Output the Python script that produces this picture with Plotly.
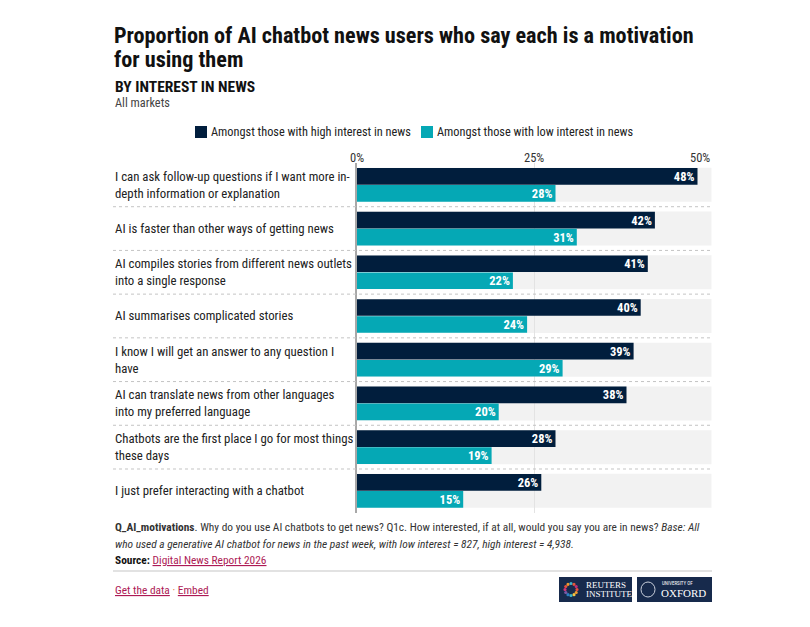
import plotly.graph_objects as go
import math

# ---------------- data ----------------
categories = [
    "I can ask follow-up questions if I want more in-<br>depth information or explanation",
    "AI is faster than other ways of getting news",
    "AI compiles stories from different news outlets<br>into a single response",
    "AI summarises complicated stories",
    "I know I will get an answer to any question I<br>have",
    "AI can translate news from other languages<br>into my preferred language",
    "Chatbots are the first place I go for most things<br>these days",
    "I just prefer interacting with a chatbot",
]
high_interest = [48, 42, 41, 40, 39, 38, 28, 26]
low_interest = [28, 31, 22, 24, 29, 20, 19, 15]
series_names = ["Amongst those with high interest in news", "Amongst those with low interest in news"]
tick_values = [0, 25, 50]
tick_labels = ["0%", "25%", "50%"]
x_max = 50

# ---------------- style ----------------
W, H = 810, 627
FONT = "Liberation Sans Narrow, Roboto Condensed, Arial Narrow, Roboto, sans-serif"
SERIF = "Liberation Serif, DejaVu Serif, serif"
NAVY = "#011e3d"
TEAL = "#05a8b5"
BG = "#f2f2f2"
LINK = "#ad1a55"


def px(x):
    return x / W


def py(y):
    return 1 - y / H


X0, X1 = 356.7, 711.7
Y0, Y1 = 163.0, 512.7

fig = go.Figure()
for vals, col, name in [(high_interest, NAVY, series_names[0]), (low_interest, TEAL, series_names[1])]:
    fig.add_trace(go.Bar(
        y=categories, x=vals, orientation="h", name=name,
        marker=dict(color=col, line=dict(width=0)),
        texttemplate="%{x}%", textposition="inside", insidetextanchor="end",
        constraintext="none",
        textfont=dict(family=FONT, size=12.5, color="white", weight="bold"),
        hoverinfo="skip",
    ))

n = len(categories)
group_half = (1 - 0.222) / 2
shapes = []
annotations = []

# grey row backgrounds
for i in range(n):
    shapes.append(dict(type="rect", xref="x", yref="y", x0=0, x1=x_max,
                       y0=i - group_half, y1=i + group_half,
                       fillcolor=BG, line=dict(width=0), layer="below"))
# dotted separators
for i in range(n - 1):
    shapes.append(dict(type="line", xref="paper", yref="y", x0=px(113), x1=px(X1),
                       y0=i + 0.5, y1=i + 0.5,
                       line=dict(color="#c4c4c4", width=1, dash="dot"), layer="above"))

# row labels
for i, c in enumerate(categories):
    annotations.append(dict(xref="paper", yref="y", x=px(113), y=i, text=c,
                            xanchor="left", yanchor="middle", align="left", showarrow=False,
                            font=dict(family=FONT, size=12.8, color="#222")))

# tick labels
for v, t in zip(tick_values, tick_labels):
    anchor = "right" if v == x_max else "center"
    annotations.append(dict(xref="x", yref="paper", x=v, y=py(157), text=t,
                            xanchor=anchor, yanchor="middle", showarrow=False,
                            font=dict(family=FONT, size=12.5, color="#333")))

# title block
annotations += [
    dict(xref="paper", yref="paper", x=px(112), y=py(35),
         text="<b>Proportion of AI chatbot news users who say each is a motivation</b>",
         xanchor="left", yanchor="middle", showarrow=False,
         font=dict(family=FONT, size=22.2, color="#111")),
    dict(xref="paper", yref="paper", x=px(112), y=py(59),
         text="<b>for using them</b>",
         xanchor="left", yanchor="middle", showarrow=False,
         font=dict(family=FONT, size=22.2, color="#111")),
    dict(xref="paper", yref="paper", x=px(113), y=py(87),
         text="<b>BY INTEREST IN NEWS</b>",
         xanchor="left", yanchor="middle", showarrow=False,
         font=dict(family=FONT, size=15.5, color="#111")),
    dict(xref="paper", yref="paper", x=px(113), y=py(103),
         text="All markets",
         xanchor="left", yanchor="middle", showarrow=False,
         font=dict(family=FONT, size=12.3, color="#444")),
]

# legend (manual)
leg = [(195, 209, NAVY, series_names[0]), (421, 435, TEAL, series_names[1])]
for sx, tx, col, name in leg:
    shapes.append(dict(type="rect", xref="paper", yref="paper",
                       x0=px(sx), x1=px(sx + 12), y0=py(138), y1=py(126),
                       fillcolor=col, line=dict(width=0)))
    annotations.append(dict(xref="paper", yref="paper", x=px(tx), y=py(132), text=name,
                            xanchor="left", yanchor="middle", showarrow=False,
                            font=dict(family=FONT, size=12.3, color="#222")))

# footer
FS = 11.4
annotations += [
    dict(xref="paper", yref="paper", x=px(113), y=py(527),
         text="<b>Q_AI_motivations</b>. Why do you use AI chatbots to get news? Q1c. How interested, if at all, would you say you are in news? <i>Base: All</i>",
         xanchor="left", yanchor="middle", showarrow=False,
         font=dict(family=FONT, size=FS, color="#333")),
    dict(xref="paper", yref="paper", x=px(113), y=py(544),
         text="<i>who used a generative AI chatbot for news in the past week, with low interest = 827, high interest = 4,938.</i>",
         xanchor="left", yanchor="middle", showarrow=False,
         font=dict(family=FONT, size=FS, color="#333")),
    dict(xref="paper", yref="paper", x=px(113), y=py(560),
         text="<b>Source:</b> <span style='color:" + LINK + "'><u>Digital News Report 2026</u></span>",
         xanchor="left", yanchor="middle", showarrow=False,
         font=dict(family=FONT, size=FS, color="#111")),
    dict(xref="paper", yref="paper", x=px(113), y=py(590),
         text="<span style='color:" + LINK + "'><u>Get the data</u></span><span style='color:#e8743b'> · </span><span style='color:" + LINK + "'><u>Embed</u></span>",
         xanchor="left", yanchor="middle", showarrow=False,
         font=dict(family=FONT, size=FS, color=LINK)),
]
shapes.append(dict(type="line", xref="paper", yref="paper", x0=px(113), x1=px(712),
                   y0=py(571), y1=py(571), line=dict(color="#d8d8d8", width=1.5)))

# logos
LOGO_BG = "#172a4c"
shapes.append(dict(type="rect", xref="paper", yref="paper", x0=px(559), x1=px(632),
                   y0=py(602), y1=py(577), fillcolor=LOGO_BG, line=dict(width=0)))
shapes.append(dict(type="rect", xref="paper", yref="paper", x0=px(637), x1=px(712),
                   y0=py(602), y1=py(577), fillcolor=LOGO_BG, line=dict(width=0)))
dot_colors = ["#e94e3c", "#f29a2e", "#f4c542", "#3db6c9", "#2c7fc1", "#7d58a6",
              "#d7377c", "#e94e3c", "#f29a2e", "#3db6c9", "#e4573b", "#c4307a"]
cx, cy = 571, 589.5
for k, col in enumerate(dot_colors):
    a = 2 * math.pi * k / len(dot_colors)
    dx, dy = cx + 6 * math.cos(a), cy + 6 * math.sin(a)
    shapes.append(dict(type="circle", xref="paper", yref="paper",
                       x0=px(dx - 1.6), x1=px(dx + 1.6), y0=py(dy + 1.6), y1=py(dy - 1.6),
                       fillcolor=col, line=dict(width=0)))
shapes.append(dict(type="circle", xref="paper", yref="paper",
                   x0=px(641), x1=px(655), y0=py(597), y1=py(582),
                   fillcolor=LOGO_BG, line=dict(color="#c9cfdb", width=1)))
annotations += [
    dict(xref="paper", yref="paper", x=px(584), y=py(584.5), text="REUTERS",
         xanchor="left", yanchor="middle", showarrow=False,
         font=dict(family=SERIF, size=9, color="white")),
    dict(xref="paper", yref="paper", x=px(584), y=py(594), text="INSTITUTE",
         xanchor="left", yanchor="middle", showarrow=False,
         font=dict(family=SERIF, size=9, color="white")),
    dict(xref="paper", yref="paper", x=px(660), y=py(582.5), text="UNIVERSITY OF",
         xanchor="left", yanchor="middle", showarrow=False,
         font=dict(family=FONT, size=5, color="white")),
    dict(xref="paper", yref="paper", x=px(659), y=py(593), text="OXFORD",
         xanchor="left", yanchor="middle", showarrow=False,
         font=dict(family=SERIF, size=11, color="white")),
]

fig.update_layout(
    width=W, height=H, autosize=False,
    margin=dict(l=0, r=0, t=0, b=0, autoexpand=False),
    paper_bgcolor="white", plot_bgcolor="white",
    barmode="group", bargap=0.222, bargroupgap=0.02,
    showlegend=False,
    font=dict(family=FONT, color="#222"),
    xaxis=dict(domain=[px(X0), px(X1)], range=[0, x_max], tickvals=[25],
               showticklabels=False, showgrid=True, gridcolor="#e3e3e3", gridwidth=1,
               zeroline=False, showline=False, fixedrange=True),
    yaxis=dict(domain=[py(Y1), py(Y0)], type="category", categoryorder="array",
               categoryarray=categories, range=[n - 0.5, -0.5],
               showticklabels=False, showgrid=False, zeroline=False,
               showline=True, linecolor="#a8a8a8", linewidth=1.5, fixedrange=True),
    shapes=shapes,
    annotations=annotations,
)

fig.write_html("out.html", config={"displayModeBar": False})
